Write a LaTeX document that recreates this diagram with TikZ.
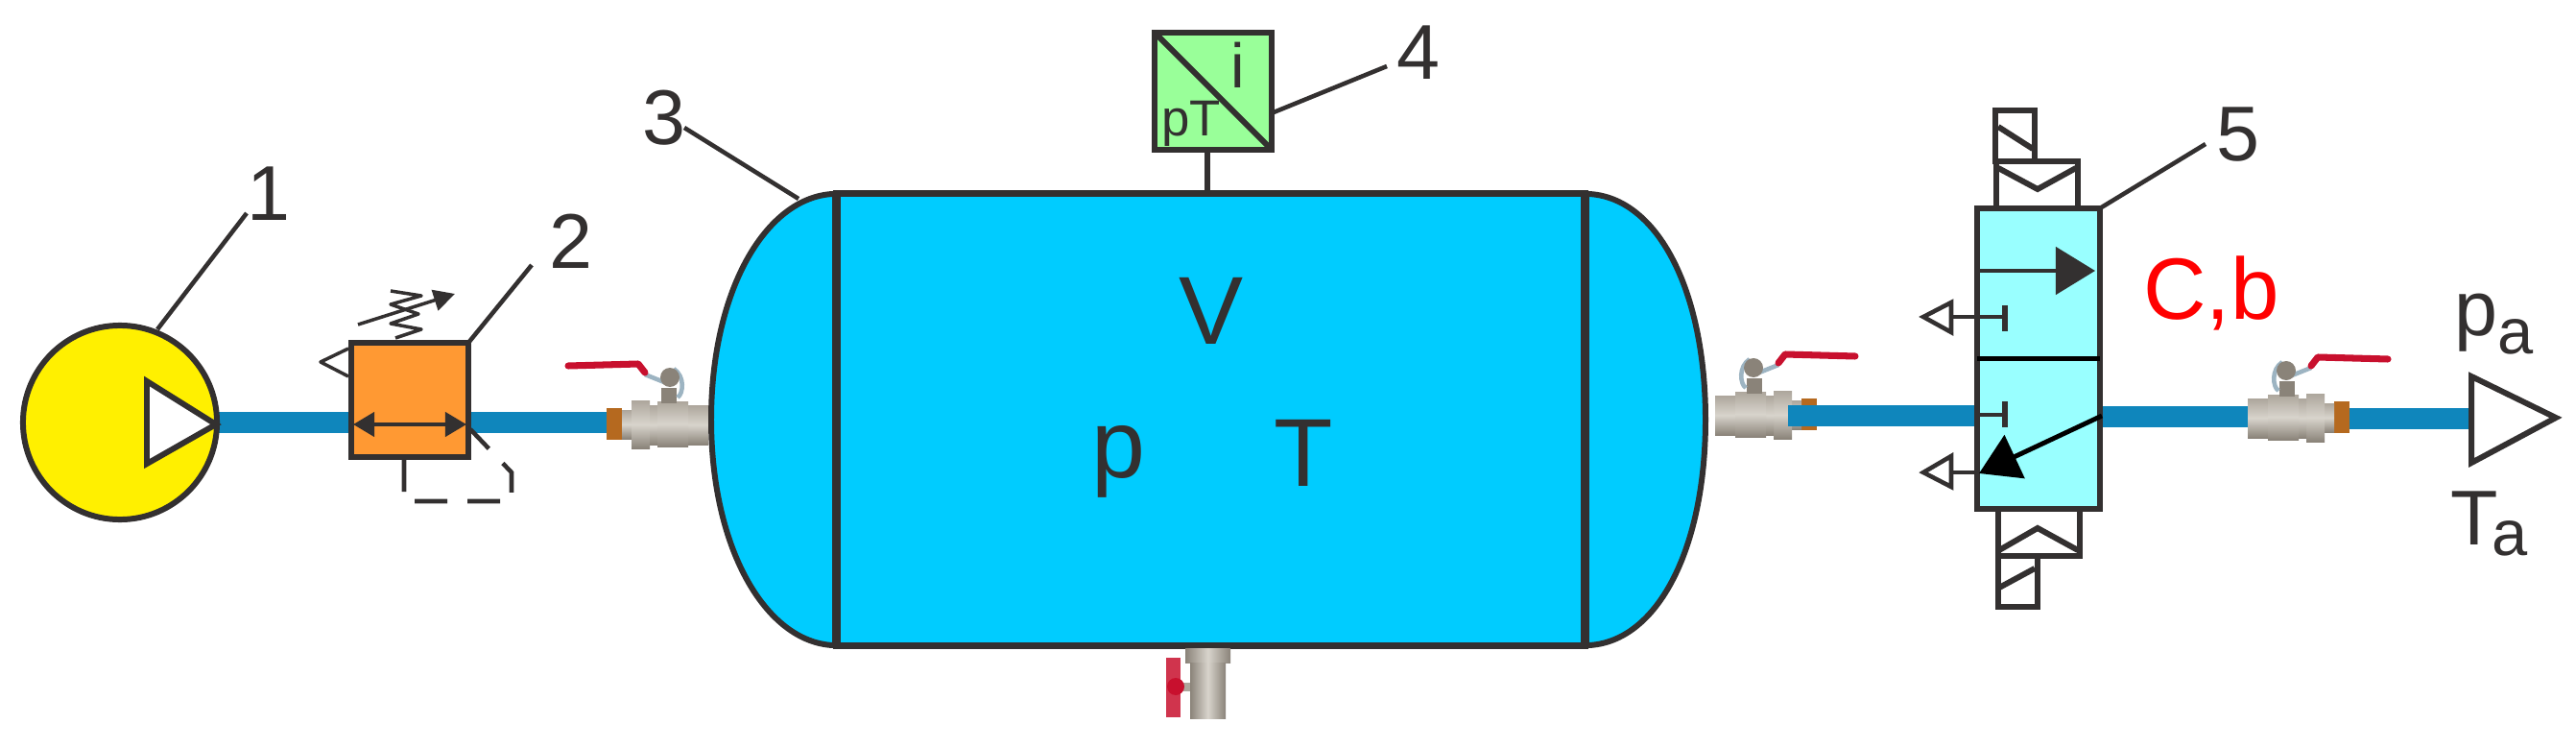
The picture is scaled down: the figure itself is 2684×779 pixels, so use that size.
\documentclass[tikz,border=0pt]{standalone}
\usepackage{fontspec}
\setmainfont{Liberation Sans}
\usetikzlibrary{positioning,arrows.meta,backgrounds}

\definecolor{inkgray}{HTML}{333030}
\definecolor{pumpyellow}{HTML}{FFF000}
\definecolor{regorange}{HTML}{FF9933}
\definecolor{tankblue}{HTML}{00CCFF}
\definecolor{sensgreen}{HTML}{99FF99}
\definecolor{spoolcyan}{HTML}{99FFFF}
\definecolor{pipeblue}{HTML}{0F86BC}
\definecolor{handlered}{HTML}{C8102E}
\definecolor{brass}{HTML}{B5691F}
\definecolor{steellight}{HTML}{D8D4CC}
\definecolor{steelmid}{HTML}{ADA69C}
\definecolor{steeldark}{HTML}{8A8379}
\definecolor{linkblue}{HTML}{9DB4C2}

\begin{document}
\begin{tikzpicture}[
  x=0.01cm, y=-0.01cm,
  sym/.style={draw=inkgray, line width=1.7pt, line join=miter},
  block/.style={sym, inner sep=0pt, outer sep=0pt},
  pump/.style={block, circle, fill=pumpyellow, minimum size=2.02cm},
  regbox/.style={block, fill=regorange, minimum width=1.22cm, minimum height=1.19cm},
  tankbody/.style={block, fill=tankblue, line width=2pt, minimum width=7.79cm, minimum height=4.7cm},
  sensbox/.style={block, fill=sensgreen, minimum size=1.22cm},
  spoolbox/.style={block, fill=spoolcyan, minimum width=1.28cm, minimum height=3.13cm},
  actbox/.style={block, fill=white, minimum width=0.85cm, minimum height=0.49cm},
  coilbox/.style={block, fill=white, minimum width=0.41cm, minimum height=0.53cm},
  fineline/.style={draw=inkgray, line width=1pt, line join=round},
  leader/.style={draw=inkgray, line width=1.3pt},
  pipe/.style={draw=pipeblue, line width=0.22cm},
  numlbl/.style={inner sep=0pt, text=inkgray, font=\fontsize{23}{26}\selectfont},
  statelbl/.style={inner sep=0pt, text=inkgray, font=\fontsize{28.6}{32}\selectfont},
  metal/.style={top color=steelmid, bottom color=steeldark, middle color=steellight},
  ballvalve/.pic={
    \fill[brass] (-106,-17) rectangle (-90,16);
    \path[metal] (-90,-15) rectangle (-80,15);
    \path[metal] (-80,-25) rectangle (-61,25);
    \path[metal] (-61,-20) rectangle (0,21);
    \path[metal] (-53,-24) rectangle (-21,23);
    \fill[steeldark] (-49,-38) rectangle (-33,-22);
    \draw[linkblue, line width=1.3pt] (-66,-52) -- (-46,-44);
    \draw[linkblue, line width=1.3pt] (-36,-58) .. controls (-24,-50) and (-26,-32) .. (-32,-28);
    \fill[steeldark] (-40,-49) circle (10);
    \draw[handlered, line width=2pt, line cap=round, line join=round] (-146,-61) -- (-73,-63) -- (-66,-54);
  }
]
  \useasboundingbox (0,0) rectangle (2684,779);

  \node[pump] (pump) at (125,440) {};
  \node[regbox] (reg) at (427,416.5) {};
  \node[tankbody] (tank) at (1261.5,437) {};
  \node[sensbox, above=0.46cm of tank, xshift=0.025cm] (sens) {};
  \node[spoolbox] (spool) at (2124,373.5) {};
  \node[actbox, above=0pt of spool, xshift=-0.015cm] (acttop) {};
  \node[actbox, below=0pt of spool, xshift=0.005cm] (actbot) {};
  \node[coilbox, above right=0pt and 0pt of acttop.north west, xshift=-0.01cm] (coiltop) {};
  \node[coilbox, below right=0pt and 0pt of actbot.south west] (coilbot) {};

  \coordinate (port1) at (632,440);
  \coordinate (port2) at (1863,433);
  \coordinate (port3) at (2342,434);
  \coordinate (port4) at (2448,436);
  \coordinate (outlet) at (2575,436);

  \begin{scope}[on background layer]
    \pic at (738,442) {ballvalve};
    \pic[xscale=-1] at (1787,432) {ballvalve};
    \pic[xscale=-1] at (2342,435) {ballvalve};
    \draw[pipe] (pump.east) -- (port1);
    \draw[pipe] (port2) -- (port2 -| spool.west);
    \draw[pipe] (spool.east |- port3) -- (port3);
    \draw[pipe] (port4) -- (outlet);
  \end{scope}

  \draw[sym, fill=white] (153,397) -- (225,442) -- (153,483) -- cycle;

  \draw[sym, line width=1.2pt, {Triangle[length=0.22cm,width=0.25cm]}-{Triangle[length=0.22cm,width=0.25cm]}] (368,442) -- (486,442);
  \draw[fineline] (363,363) -- (334,377) -- (363,392);
  \draw[fineline] (412,352) -- (439,343) -- (407,337) -- (436,327) -- (407,317) -- (439,308) -- (407,303);
  \draw[fineline, -{Triangle[length=0.22cm,width=0.22cm]}] (373,338) -- (474,306);
  \draw[draw=inkgray, line width=1.3pt, dash pattern=on 0.34cm off 0.21cm, dash phase=0.06cm] (490,447) -- (533,492) -- (533,522) -- (421,522) -- (421,478);

  \draw[sym, fill=tankblue] (tank.north west) .. controls (800,202) and (741,300) .. (741,437) .. controls (741,574) and (800,672) .. (tank.south west);
  \draw[sym, fill=tankblue] (tank.north east) .. controls (1725,202) and (1777,300) .. (1777,437) .. controls (1777,574) and (1725,672) .. (tank.south east);
  \draw[sym, line width=2.6pt] (tank.north west) -- (tank.south west);
  \draw[sym, line width=2.6pt] (tank.north east) -- (tank.south east);
  \node[statelbl, anchor=base] (vol) at (1262,358) {V};
  \node[statelbl, anchor=base] (pres) at (1165,497) {p};
  \node[statelbl, anchor=base] (temp) at (1358,506) {T};

  \path[left color=steeldark, right color=steeldark, middle color=steellight] (1235,675) rectangle (1282,690);
  \path[left color=steeldark, right color=steeldark, middle color=steellight] (1240,690) rectangle (1277,748);
  \fill[steelmid] (1228,711) rectangle (1240,720);
  \fill[handlered!85!white] (1215,685) rectangle (1230,747);
  \fill[handlered] (1225,715) circle (9);

  \draw[sym] (sens.north west) -- (sens.south east);
  \draw[sym] ([xshift=-0.06cm]sens.south) -- ([xshift=-0.06cm]sens.south |- tank.north);
  \node[anchor=base, inner sep=0pt, text=inkgray, font=\fontsize{18.6}{20}\selectfont] (sensi) at (1290,92) {i};
  \node[anchor=base, inner sep=0pt, text=inkgray, font=\fontsize{15}{17}\selectfont] (senspt) at (1241,142) {pT};

  \draw[sym, draw=black] (spool.west) -- (spool.east);
  \coordinate (flowin) at (2060,282);
  \coordinate (flowout) at (2183,282);
  \coordinate (ventin) at (2190,433);
  \coordinate (ventout) at (2062,493);
  \draw[sym, line width=1.3pt, -{Triangle[length=0.41cm,width=0.49cm]}] (flowin) -- (flowout);
  \draw[draw=black, line width=1.4pt, -{Triangle[length=0.41cm,width=0.49cm]}] (ventin) -- (ventout);
  \draw[sym, line width=1.3pt] (2033,330) -- (2089,330);
  \draw[sym] (2089,318) -- (2089,345);
  \draw[sym, line width=1.3pt] (2060,432) -- (2089,432);
  \draw[sym] (2089,418) -- (2089,445);
  \draw[sym, line width=1.3pt] (2033,492) -- (2060,492);
  \draw[sym, line width=1.3pt] (2033,315) -- (2004,330) -- (2033,346) -- cycle;
  \draw[sym, line width=1.3pt] (2033,475) -- (2004,492) -- (2033,507) -- cycle;
  \draw[sym] (2082,175) -- (2123,197) -- (2163,175);
  \draw[sym] (2083,573) -- (2123,550) -- (2165,573);
  \draw[sym] (2082,132) -- (2118,155);
  \draw[sym] (2083,612) -- (2120,592);

  \draw[sym, fill=white] (outlet |- 0,392) -- (2663,435) -- (outlet |- 0,482) -- cycle;

  \coordinate (tip1) at (257,222);
  \coordinate (tip2) at (554,276);
  \coordinate (tip3) at (713,133);
  \coordinate (tip4) at (1445,69);
  \coordinate (tip5) at (2298,150);
  \coordinate (foot1) at (164,343);
  \coordinate (foot3) at (832,207);
  \coordinate (foot4) at (1327,117);
  \draw[leader] (foot1) -- (tip1);
  \draw[leader] (reg.north east) -- (tip2);
  \draw[leader] (foot3) -- (tip3);
  \draw[leader] (foot4) -- (tip4);
  \draw[leader] (spool.north east) -- (tip5);

  \node[numlbl, anchor=base] (lab1) at (280,230) {1};
  \node[numlbl, anchor=base] (lab2) at (595,280) {2};
  \node[numlbl, anchor=base] (lab3) at (692,151) {3};
  \node[numlbl, anchor=base] (lab4) at (1478,83) {4};
  \node[numlbl, anchor=base] (lab5) at (2332,168) {5};
  \node[anchor=base, inner sep=0pt, text=red, font=\fontsize{25.8}{28}\selectfont] (cb) at (2304,332) {C,b};
  \node[numlbl, anchor=base west] (pa) at (2557,350) {p\raisebox{-0.18cm}{\fontsize{19}{19}\selectfont a}};
  \node[numlbl, anchor=base west] (ta) at (2553,567) {T\kern-0.07cm\raisebox{-0.11cm}{\fontsize{19}{19}\selectfont a}};
\end{tikzpicture}
\end{document}
